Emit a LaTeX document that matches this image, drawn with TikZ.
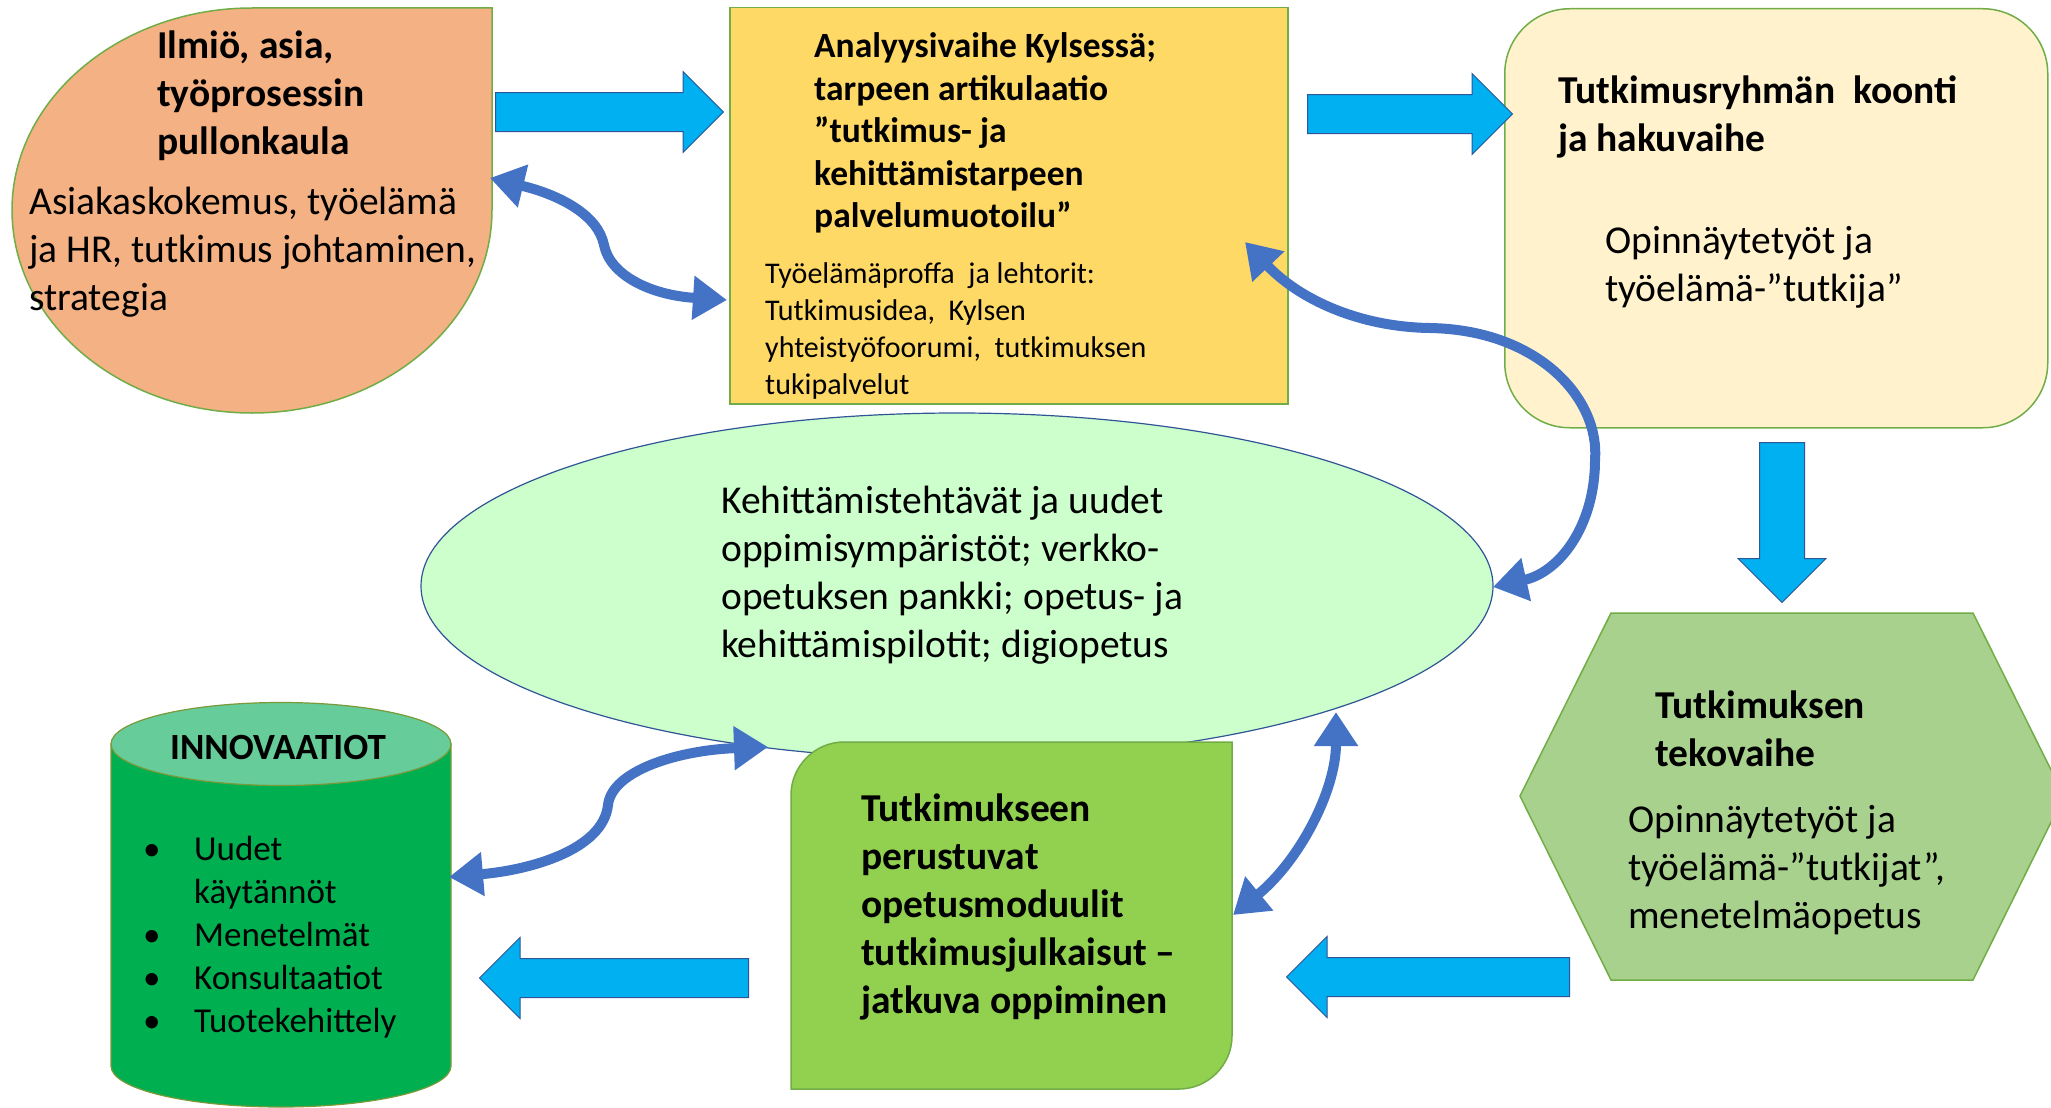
\documentclass[tikz,border=0pt]{standalone}
\usepackage{fontspec}
\setmainfont{Carlito}
\usepackage{tikz}
\usetikzlibrary{shapes.geometric, shapes.arrows, arrows.meta}

\definecolor{tearorange}{HTML}{F4B183}
\definecolor{anayellow}{HTML}{FFD966}
\definecolor{koocream}{HTML}{FFF2CC}
\definecolor{elimint}{HTML}{CCFFCC}
\definecolor{modgreen}{HTML}{92D050}
\definecolor{hexgreen}{HTML}{A9D18E}
\definecolor{cylgreen}{HTML}{00B050}
\definecolor{cyltop}{HTML}{66CC99}
\definecolor{cyledge}{HTML}{7A9A3A}
\definecolor{edgegreen}{HTML}{70AD47}
\definecolor{flowcyan}{HTML}{00B0F0}
\definecolor{flowedge}{HTML}{2F5597}
\definecolor{linkblue}{HTML}{4472C4}

\tikzset{
  plaintxt/.style={anchor=west, align=left, inner sep=0pt, font=\fontsize{39.5}{48}\selectfont},
  titletxt/.style={plaintxt, font=\fontsize{39.5}{48}\selectfont\bfseries},
  frame/.style={draw=edgegreen, line width=1.5pt},
  flow/.style={single arrow, draw=flowedge, fill=flowcyan, line width=1pt, inner xsep=0pt, inner ysep=19pt,
    single arrow tip angle=90, single arrow head extend=21pt, anchor=tail},
  link/.style={draw=linkblue, line width=10pt,
    {Triangle[length=34pt,width=42pt]}-{Triangle[length=34pt,width=42pt]}},
}

\begin{document}
\begin{tikzpicture}[x=1pt, y=-1pt]
\useasboundingbox (0,0) rectangle (2051,1108);

% shapes
\filldraw[frame, fill=tearorange] (252,8) -- (492,8) -- (492,210)
  .. controls (492,322) and (384,413) .. (252,413)
  .. controls (120,413) and (12,322) .. (12,210)
  .. controls (12,99) and (120,8) .. (252,8) -- cycle;
\node[frame, fill=anayellow, minimum width=558pt, minimum height=396pt, anchor=north west, inner sep=0pt] (ana) at (729,7) {};
\node[frame, fill=koocream, rounded corners=65pt, minimum width=543pt, minimum height=419pt, anchor=north west, inner sep=0pt] (koonti) at (1504,8) {};
\node[ellipse, draw=flowedge, line width=1.2pt, fill=elimint, minimum width=1072pt, minimum height=346pt, inner sep=0pt] (eli) at (957,586) {};
\filldraw[frame, fill=modgreen] (791,1089) -- (791,795) .. controls (791,766) and (815,742) .. (844,742)
  -- (1232,742) -- (1232,1036) .. controls (1232,1065) and (1208,1089) .. (1179,1089) -- cycle;
\filldraw[frame, fill=hexgreen] (1520,796) -- (1611,613) -- (1973,613) -- (2064,796) -- (1973,980) -- (1611,980) -- cycle;
\filldraw[draw=cyledge, line width=1.2pt, fill=cylgreen] (111,744) -- (111,1066)
  .. controls (111,1089) and (187,1107) .. (281,1107)
  .. controls (375,1107) and (451,1089) .. (451,1066) -- (451,744) -- cycle;
\node[ellipse, draw=cyledge, line width=1.2pt, fill=cyltop, minimum width=340pt, minimum height=83pt, inner sep=0pt] (inno) at (281,744) {};

% texts
\node[titletxt] (tear-title) at (157,96) {Ilmiö, asia,\\työprosessin\\pullonkaula};
\node[plaintxt] (tear-text) at (29,252) {Asiakaskokemus, työelämä\\ja HR, tutkimus johtaminen,\\strategia};
\node[titletxt, font=\fontsize{35.5}{42.5}\selectfont\bfseries] (ana-title) at (814,133)
  {Analyysivaihe Kylsessä;\\tarpeen artikulaatio\\”tutkimus- ja\\kehittämistarpeen\\palvelumuotoilu”};
\node[plaintxt, font=\fontsize{30}{37}\selectfont] (ana-text) at (765,331)
  {Työelämäproffa\ \ ja lehtorit:\\Tutkimusidea,\ \ Kylsen\\yhteistyöfoorumi,\ \ tutkimuksen\\tukipalvelut};
\node[titletxt] (koonti-title) at (1558,117) {Tutkimusryhmän\ \ koonti\\ja hakuvaihe};
\node[plaintxt] (koonti-text) at (1605,267) {Opinnäytetyöt ja\\työelämä-”tutkija”};
\node[plaintxt] (eli-text) at (721,575)
  {Kehittämistehtävät ja uudet\\oppimisympäristöt; verkko-\\opetuksen pankki; opetus- ja\\kehittämispilotit; digiopetus};
\node[titletxt] (mod-title) at (861,907)
  {Tutkimukseen\\perustuvat\\opetusmoduulit\\tutkimusjulkaisut –\\jatkuva oppiminen};
\node[titletxt] (teko-title) at (1655,729) {Tutkimuksen\\tekovaihe};
\node[plaintxt] (teko-text) at (1628,870) {Opinnäytetyöt ja\\työelämä-”tutkijat”,\\menetelmäopetus};
\node[inner sep=0pt, font=\fontsize{37}{44}\selectfont\bfseries] (inno-title) at (278,747) {INNOVAATIOT};
\node[anchor=west, inner sep=0pt, font=\fontsize{35}{43}\selectfont] (inno-list) at (143,938)
  {\begin{tabular}{@{}p{51pt}@{}l@{}}
   \textbullet & Uudet\\
               & käytännöt\\
   \textbullet & Menetelmät\\
   \textbullet & Konsultaatiot\\
   \textbullet & Tuotekehittely
   \end{tabular}};

% block arrows
\node[flow, minimum height=228pt] (flow-a) at (495,112) {};
\node[flow, minimum height=205pt] (flow-b) at (1307,114) {};
\node[flow, minimum height=160pt, inner xsep=22pt, inner ysep=0pt, single arrow head extend=21.5pt, shape border rotate=270] (flow-c) at (1782,442) {};
\node[flow, minimum height=283pt, shape border rotate=180] (flow-d) at (1570,977) {};
\node[flow, minimum height=269pt, shape border rotate=180] (flow-e) at (749,978) {};

% two-way links
\coordinate (tear-r) at (490,178);
\coordinate (ana-l) at (727,300);
\coordinate (ana-r) at (1245,242);
\coordinate (eli-r) at (1493,587);
\coordinate (inno-r) at (449,877);
\coordinate (eli-sw) at (768,747);
\coordinate (mod-r) at (1233,915);
\coordinate (eli-se) at (1336,712);
\draw[link] (tear-r) .. controls (560,195) and (598,215) .. (604,245) .. controls (610,275) and (650,295) .. (ana-l);
\draw[link] (ana-r) .. controls (1300,300) and (1360,327) .. (1430,328)
  .. controls (1540,330) and (1600,400) .. (1595,460) .. controls (1595,525) and (1560,572) .. (eli-r);
\draw[link] (inno-r) .. controls (530,870) and (603,850) .. (608,805) .. controls (612,770) and (680,750) .. (eli-sw);
\draw[link] (mod-r) .. controls (1300,860) and (1336,790) .. (eli-se);
\end{tikzpicture}
\end{document}
